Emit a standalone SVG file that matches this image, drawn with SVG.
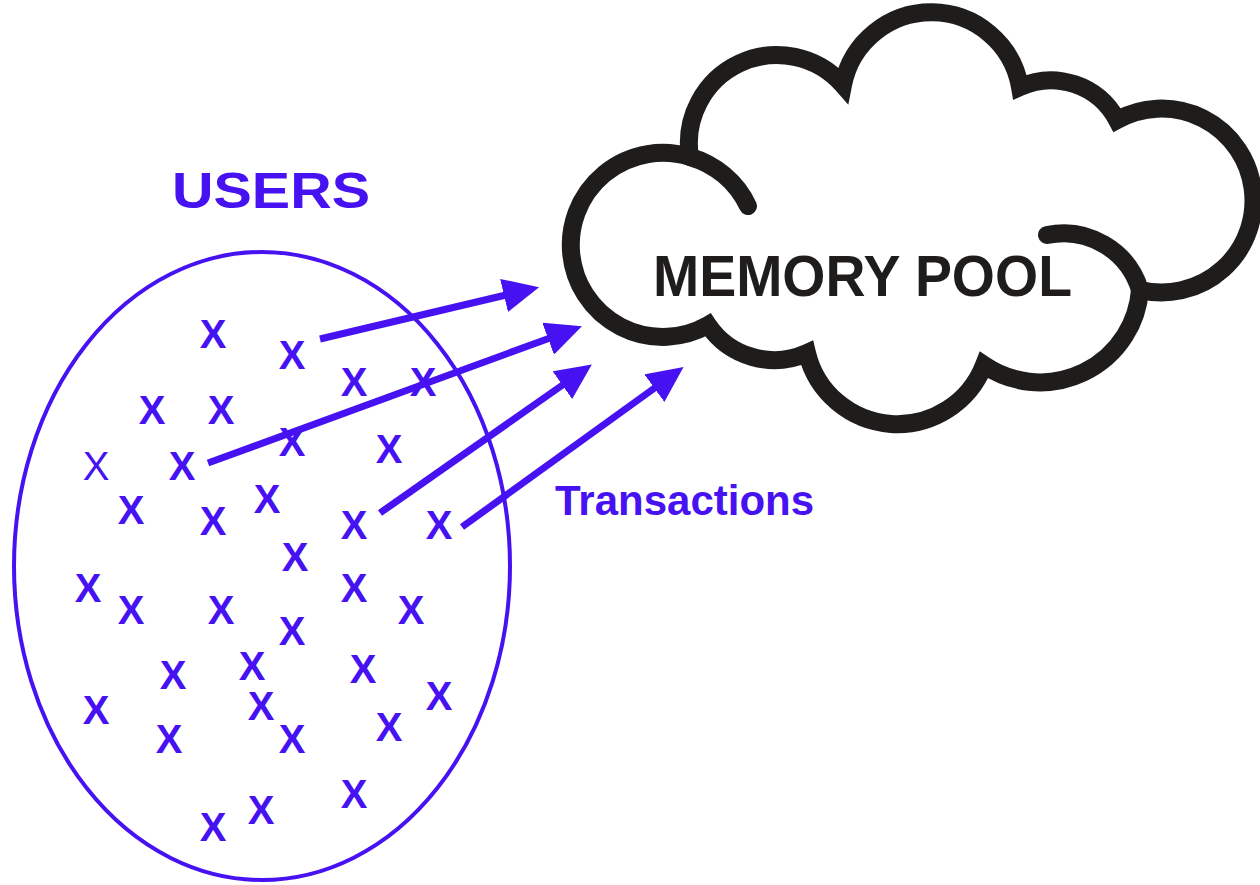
<svg xmlns="http://www.w3.org/2000/svg" width="1260" height="885" viewBox="0 0 1260 885">
<style>
.blue{fill:#4612F2;font-family:"Liberation Sans",Arial,sans-serif;font-weight:bold}
.x{fill:#4612F2;font-family:"Liberation Sans",Arial,sans-serif;font-weight:bold;font-size:40px;text-anchor:middle}
.xt{font-weight:normal}
.cloud{fill:none;stroke:#1f1c1c;stroke-width:18;stroke-linecap:round;stroke-linejoin:miter}
.conn{stroke:#4612F2;stroke-width:7;fill:none}
</style>
<defs>
<marker id="ah" markerUnits="userSpaceOnUse" markerWidth="36" markerHeight="34" viewBox="0 0 36 34" refX="2" refY="17" orient="auto">
<path d="M0,0 L36,17 L0,34 z" fill="#4612F2"/>
</marker>
</defs>
<rect width="1260" height="885" fill="#ffffff"/>

<g id="cloud">
<path d="M690,157 A88,88 0 0 1 843,85 A90,90 0 0 1 1020,87 A75,75 0 0 1 1117,120 A92,92 0 1 1 1140,290 A100,100 0 0 1 984,365 A93,93 0 0 1 807,353 A80,80 0 0 1 708,325 A92,92 0 1 1 690,157 Z" fill="#ffffff" stroke="none"/>
<path class="cloud" d="M690,157 A88,88 0 0 1 843,85 A90,90 0 0 1 1020,87 A75,75 0 0 1 1117,120 A92,92 0 1 1 1140,290 A100,100 0 0 1 984,365 A93,93 0 0 1 807,353 A80,80 0 0 1 708,325 A92,92 0 1 1 690,157"/>
<path class="cloud" d="M690,157 A92,92 0 0 1 748,206"/>
<path class="cloud" d="M1140,290 A80,80 0 0 0 1047,235"/>
<text x="653" y="296" font-family="'Liberation Sans',Arial,sans-serif" font-weight="bold" font-size="57" fill="#1f1c1c" textLength="419" lengthAdjust="spacingAndGlyphs">MEMORY POOL</text>
</g>

<g id="users-label">
<text class="blue" x="172" y="208" font-size="50" textLength="198" lengthAdjust="spacingAndGlyphs">USERS</text>
</g>

<g id="users">
<ellipse cx="262" cy="566" rx="248" ry="314" fill="none" stroke="#4612F2" stroke-width="4"/>
<text class="x" x="213" y="348">X</text>
<text class="x" x="292" y="369">X</text>
<text class="x" x="354" y="396">X</text>
<text class="x" x="423" y="396">X</text>
<text class="x" x="152" y="424">X</text>
<text class="x" x="221" y="424">X</text>
<text class="x" x="292" y="456">X</text>
<text class="x" x="389" y="463">X</text>
<text class="x xt" x="96" y="480">X</text>
<text class="x" x="182" y="480">X</text>
<text class="x" x="131" y="524">X</text>
<text class="x" x="213" y="535">X</text>
<text class="x" x="267" y="513">X</text>
<text class="x" x="354" y="539">X</text>
<text class="x" x="439" y="539">X</text>
<text class="x" x="295" y="571">X</text>
<text class="x" x="88" y="602">X</text>
<text class="x" x="131" y="624">X</text>
<text class="x" x="221" y="624">X</text>
<text class="x" x="292" y="645">X</text>
<text class="x" x="354" y="602">X</text>
<text class="x" x="411" y="624">X</text>
<text class="x" x="173" y="689">X</text>
<text class="x" x="252" y="680">X</text>
<text class="x" x="363" y="683">X</text>
<text class="x" x="439" y="710">X</text>
<text class="x" x="96" y="724">X</text>
<text class="x" x="261" y="720">X</text>
<text class="x" x="169" y="753">X</text>
<text class="x" x="292" y="753">X</text>
<text class="x" x="389" y="741">X</text>
<text class="x" x="354" y="808">X</text>
<text class="x" x="261" y="824">X</text>
<text class="x" x="213" y="841">X</text>
</g>

<g id="connectors">
<line class="conn" x1="320" y1="339" x2="506" y2="295" marker-end="url(#ah)"/>
<line class="conn" x1="208" y1="463" x2="550" y2="338" marker-end="url(#ah)"/>
<line class="conn" x1="380" y1="513" x2="564" y2="384" marker-end="url(#ah)"/>
<line class="conn" x1="462" y1="527" x2="656" y2="387" marker-end="url(#ah)"/>
</g>

<g id="transactions-label">
<text class="blue" x="555" y="515" font-size="42">Transactions</text>
</g>
</svg>
